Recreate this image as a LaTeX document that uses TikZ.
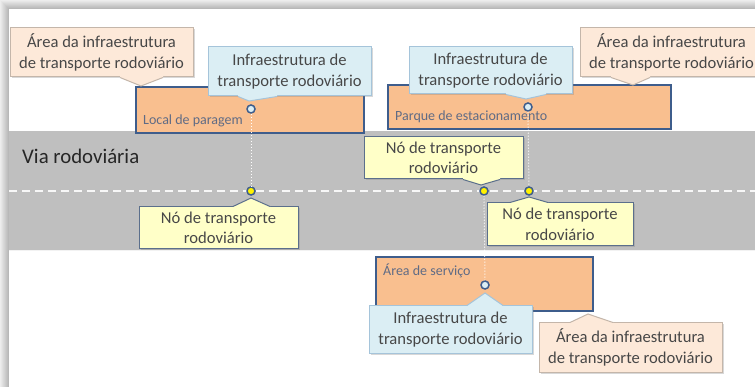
\documentclass[tikz,border=0pt]{standalone}
\usepackage{fontspec}
\setmainfont{Carlito}
\usetikzlibrary{shadows,calc}
\definecolor{road}{HTML}{BFBFBF}
\definecolor{orangefill}{HTML}{F9BF8F}
\definecolor{darkblue}{HTML}{3E5D8C}
\definecolor{bluefill}{HTML}{DBEEF4}
\definecolor{blueline}{HTML}{A5C4DA}
\definecolor{peachfill}{HTML}{FDE9D9}
\definecolor{peachline}{HTML}{C4B6AA}
\definecolor{yelfill}{HTML}{FFFFC8}
\definecolor{yelline}{HTML}{5B6F8C}
\definecolor{txt}{HTML}{474747}
\definecolor{smalltxt}{HTML}{5F6B85}
\tikzset{
  callout/.style={rectangle, inner sep=0pt, align=center, font=\fontsize{16.6}{20.5}\selectfont, text=txt, line width=1pt,
    drop shadow={opacity=0.3, shadow xshift=1.5pt, shadow yshift=-1.5pt}},
  peach/.style={callout, fill=peachfill, draw=peachline},
  bluec/.style={callout, fill=bluefill, draw=blueline},
  yelc/.style={callout, fill=yelfill, draw=yelline},
  area/.style={rectangle, inner sep=0pt, fill=orangefill, draw=darkblue, line width=1.5pt},
  arealabel/.style={anchor=west, inner sep=0pt, font=\fontsize{14}{16}\selectfont, text=smalltxt},
  infra/.style={circle, inner sep=0pt, minimum size=8pt, fill=bluefill, draw=darkblue, line width=1.5pt},
  rnode/.style={circle, inner sep=0pt, minimum size=8pt, fill=yellow, draw=darkblue, line width=1.5pt},
  link/.style={white, dotted, line width=1pt},
}
% pointer: #1 anchor, #2 x1, #3 x2, #4 tip, #5 inward dy, #6 fill, #7 line
\newcommand\ptr[7]{%
  \fill[#6] ($(#1 -| #2,0)+(0,#5)$) -- (#1 -| #2,0) -- (#4) -- (#1 -| #3,0) -- ($(#1 -| #3,0)+(0,#5)$) -- cycle;
  \draw[#7, line width=1pt] (#1 -| #2,0) -- (#4) -- (#1 -| #3,0);}
\begin{document}
\begin{tikzpicture}[x=1pt, y=-1pt]
\useasboundingbox (0,0) rectangle (755,387);
% frame shadow
\foreach \i [evaluate=\i as \p using 7+2.6*\i] in {0,...,8}
  \fill[black!\p] (\i,\i) rectangle (755,387);
\fill[white] (9,9) rectangle (755,387);
% road
\fill[road] (9,131) rectangle (755,251);
\draw[white!80!road, line width=1pt] (9,251) -- (755,251);
\draw[white!88!road, line width=1.2pt, dash pattern=on 8pt off 5pt] (9,191) -- (755,191);
\node[anchor=west, inner sep=0pt, font=\fontsize{20.8}{24}\selectfont, text=black!85] (via) at (22,156) {Via rodoviária};

% areas
\node[area, minimum width=228pt, minimum height=46pt] (o1) at (250,110) {};
\node[arealabel] (o1l) at (143,121) {Local de paragem};
\node[area, minimum width=283pt, minimum height=44pt] (o2) at (529.5,107) {};
\node[arealabel] (o2l) at (395,117) {Parque de estacionamento};
\node[area, minimum width=217pt, minimum height=54pt] (o3) at (484.5,284) {};
\node[arealabel] (o3l) at (383,271) {Área de serviço};

% circles
\node[infra] (i1) at (251,109) {};
\node[infra] (i2) at (528,107) {};
\node[infra] (i3) at (485,285) {};
\node[rnode] (y1) at (251,191) {};
\node[rnode] (y2) at (484,191) {};
\node[rnode] (y3) at (529,191) {};
\draw[link] (i1) -- (y1);
\draw[link] (i2) -- (y3);
\draw[link] (y2) -- (i3);

% callouts
\node[peach, minimum width=183pt, minimum height=49pt] (p1) at (101.5,52.5) {Área da infraestrutura\\de transporte rodoviário};
\coordinate (p1t) at (141,86);
\ptr{p1.south}{120}{163}{p1t}{-1.5}{peachfill}{peachline}

\node[bluec, minimum width=163pt, minimum height=49pt] (b1) at (289.5,71.5) {Infraestrutura de\\transporte rodoviário};
\coordinate (b1t) at (249,101);
\ptr{b1.south}{238}{277}{b1t}{-1.5}{bluefill}{blueline}

\node[bluec, minimum width=163pt, minimum height=47pt] (b2) at (490.5,70.5) {Infraestrutura de\\transporte rodoviário};
\coordinate (b2t) at (526,99);
\ptr{b2.south}{506}{546}{b2t}{-1.5}{bluefill}{blueline}

\node[peach, minimum width=183pt, minimum height=49pt] (p2) at (671.5,52.5) {Área da infraestrutura\\de transporte rodoviário};
\coordinate (p2t) at (633,85);
\ptr{p2.south}{611}{650}{p2t}{-1.5}{peachfill}{peachline}

\node[yelc, minimum width=159pt, minimum height=42pt] (c1) at (218.5,228) {Nó de transporte\\rodoviário};
\coordinate (c1t) at (251,198);
\ptr{c1.north}{233}{270}{c1t}{1.5}{yelfill}{yelline}

\node[yelc, minimum width=159pt, minimum height=42pt] (c2) at (443.5,158) {Nó de transporte\\rodoviário};
\coordinate (c2t) at (481,185);
\ptr{c2.south}{463}{500}{c2t}{-1.5}{yelfill}{yelline}

\node[yelc, minimum width=146pt, minimum height=43pt] (c3) at (560,224.5) {Nó de transporte\\rodoviário};
\coordinate (c3t) at (529,197);
\ptr{c3.north}{510}{548}{c3t}{1.5}{yelfill}{yelline}

\node[bluec, minimum width=163pt, minimum height=47pt] (b3) at (450.5,329.5) {Infraestrutura de\\transporte rodoviário};
\coordinate (b3t) at (485,293);
\ptr{b3.north}{467}{503}{b3t}{1.5}{bluefill}{blueline}

\node[peach, minimum width=183pt, minimum height=49pt] (p3) at (630.5,347.5) {Área da infraestrutura\\de transporte rodoviário};
\coordinate (p3t) at (588,314);
\ptr{p3.north}{570}{613}{p3t}{1.5}{peachfill}{peachline}
\end{tikzpicture}
\end{document}
